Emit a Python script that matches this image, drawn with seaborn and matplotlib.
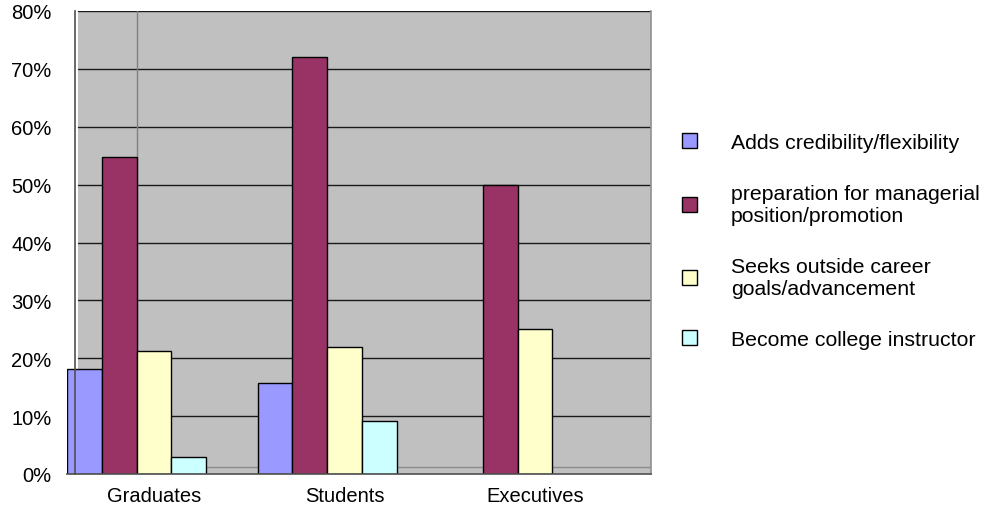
import matplotlib
matplotlib.use("Agg")
import matplotlib.pyplot as plt
import matplotlib.transforms as mtransforms
from matplotlib.patches import Rectangle, Patch
import numpy as np
import pandas as pd
import seaborn as sns

# data (percent)
groups = ["Graduates", "Students", "Executives"]
reasons = [
    "Adds credibility/flexibility",
    "preparation for managerial\nposition/promotion",
    "Seeks outside career\ngoals/advancement",
    "Become college instructor",
]
credibility = [18.2, 15.7, np.nan]
managerial = [54.8, 72.1, 50.0]
outside_career = [21.2, 22.0, 25.1]
instructor = [3.0, 9.1, np.nan]
colors = ["#9999FF", "#993366", "#FFFFCC", "#CCFFFF"]
yticks = [0, 10, 20, 30, 40, 50, 60, 70, 80]

rows = []
for reason, vals in zip(reasons, [credibility, managerial, outside_career, instructor]):
    for g, v in zip(groups, vals):
        rows.append({"group": g, "reason": reason, "pct": v})
df = pd.DataFrame(rows)

sns.set_style("white")
plt.rcParams["font.family"] = ["Liberation Sans", "DejaVu Sans"]
plt.rcParams["text.color"] = "black"
plt.rcParams["xtick.color"] = "black"
plt.rcParams["ytick.color"] = "black"
FS = 14.5

W, H = 985, 510
fig = plt.figure(figsize=(W / 100, H / 100), dpi=100)
ax = fig.add_axes([67 / W, 35 / H, 584 / W, 463 / H])
ax.set_facecolor("white")

# grey plot area (starts just right of the value axis)
x0 = 11 / 584
ax.add_patch(Rectangle((x0, 0), 1 - x0, 1, transform=ax.transAxes,
                       facecolor="#C0C0C0", edgecolor="none", zorder=0))
for y in yticks[1:]:
    ax.axhline(y, xmin=x0, xmax=1, color="#1a1a1a", lw=1, zorder=0.5)
ax.axhline(1.2, xmin=x0, xmax=1, color="#8c8c8c", lw=1, zorder=0.5)
ax.axvline(0, color="#808080", lw=1, zorder=0.5)

sns.barplot(data=df, x="group", y="pct", hue="reason", hue_order=reasons,
            palette=colors, saturation=1, width=0.73, edgecolor="black",
            linewidth=1, errorbar=None, legend=False, ax=ax)

ax.set_xlim(-0.365, 2.70)
ax.set_ylim(0, 80)
ax.set_xlabel("")
ax.set_ylabel("")

ax.set_yticks(yticks)
ax.set_yticklabels([f"{t}%" for t in yticks])
ax.tick_params(axis="y", length=0, pad=17, labelsize=FS, labelcolor="black")

ax.set_xticks(range(len(groups)))
ax.set_xticklabels(groups)
ax.set_xticks([0.5, 1.5, 2.5], minor=True)
ax.tick_params(axis="x", which="major", length=0, pad=9, labelsize=FS,
               labelcolor="black")
ax.tick_params(axis="x", which="minor", length=4, width=1, color="#606060",
               direction="out")
shift = mtransforms.ScaledTranslation(0.18, 0, fig.dpi_scale_trans)
for lab in ax.get_xticklabels():
    lab.set_transform(lab.get_transform() + shift)

ax.spines["top"].set_visible(False)
ax.spines["left"].set_position(("axes", 8 / 584))
ax.spines["left"].set_color("#505050")
ax.spines["left"].set_zorder(3)
ax.spines["bottom"].set_color("#505050")
ax.spines["right"].set_color("#909090")
for s in ax.spines.values():
    s.set_linewidth(1.2)

handles = [Patch(facecolor=c, edgecolor="black", lw=1) for c in colors]
fig.legend(handles, reasons, loc="upper left",
           bbox_to_anchor=(682 / W, 1 - 134 / H), frameon=False, fontsize=15.3,
           handlelength=0.7, handleheight=0.7, handletextpad=1.6,
           labelspacing=1.5, borderpad=0, borderaxespad=0, labelcolor="black")

fig.savefig("out.png", dpi=100)
